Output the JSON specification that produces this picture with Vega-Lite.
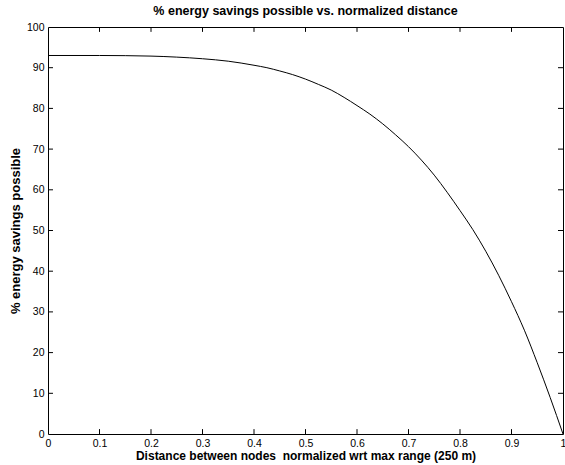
{
  "$schema": "https://vega.github.io/schema/vega-lite/v6.json",
  "width": 515,
  "height": 407,
  "autosize": {"type": "none"},
  "padding": {"left": 48, "top": 27, "right": 2, "bottom": 31},
  "background": "white",
  "config": {
    "font": "Liberation Sans",
    "view": {"stroke": "black", "strokeWidth": 1},
    "axis": {
      "grid": false,
      "domain": false,
      "ticks": false,
      "labelColor": "black",
      "titleColor": "black",
      "labelFont": "Liberation Sans",
      "titleFont": "Liberation Sans",
      "labelFontSize": 10.5,
      "titleFontSize": 12,
      "titleFontWeight": "bold",
      "labelPadding": 4
    }
  },
  "title": {
    "text": "% energy savings possible vs. normalized distance",
    "font": "Liberation Sans",
    "fontSize": 12.5,
    "fontWeight": "bold",
    "color": "black",
    "offset": 5
  },
  "datasets": {
    "curve": [
      {"x": 0, "y": 93.0},
      {"x": 0.1, "y": 93.0},
      {"x": 0.2, "y": 92.85},
      {"x": 0.25, "y": 92.6},
      {"x": 0.3, "y": 92.2},
      {"x": 0.35, "y": 91.6},
      {"x": 0.4, "y": 90.6},
      {"x": 0.425, "y": 90.0},
      {"x": 0.45, "y": 89.2},
      {"x": 0.475, "y": 88.3},
      {"x": 0.5, "y": 87.2},
      {"x": 0.525, "y": 85.9},
      {"x": 0.55, "y": 84.5},
      {"x": 0.575, "y": 82.7},
      {"x": 0.6, "y": 80.7},
      {"x": 0.625, "y": 78.6},
      {"x": 0.65, "y": 76.2},
      {"x": 0.675, "y": 73.5},
      {"x": 0.7, "y": 70.6},
      {"x": 0.725, "y": 67.3},
      {"x": 0.75, "y": 63.6},
      {"x": 0.775, "y": 59.4},
      {"x": 0.8, "y": 54.9},
      {"x": 0.825, "y": 50.2},
      {"x": 0.85, "y": 44.9},
      {"x": 0.875, "y": 39.0},
      {"x": 0.9, "y": 32.5},
      {"x": 0.925, "y": 25.5},
      {"x": 0.95, "y": 17.5},
      {"x": 0.975, "y": 9.0},
      {"x": 1.0, "y": 0.0}
    ],
    "xticks": [
      {"t": 0.1}, {"t": 0.2}, {"t": 0.3}, {"t": 0.4}, {"t": 0.5},
      {"t": 0.6}, {"t": 0.7}, {"t": 0.8}, {"t": 0.9}
    ],
    "yticks": [
      {"t": 10}, {"t": 20}, {"t": 30}, {"t": 40}, {"t": 50},
      {"t": 60}, {"t": 70}, {"t": 80}, {"t": 90}
    ]
  },
  "layer": [
    {
      "data": {"name": "curve"},
      "mark": {"type": "line", "color": "black", "strokeWidth": 1, "interpolate": "monotone"},
      "encoding": {
        "x": {
          "field": "x", "type": "quantitative",
          "scale": {"domain": [0, 1], "nice": false, "zero": false},
          "axis": {"values": [0, 0.1, 0.2, 0.3, 0.4, 0.5, 0.6, 0.7, 0.8, 0.9, 1], "format": "~g", "title": "Distance between nodes\u00a0 normalized wrt max range (250 m)", "titlePadding": 2, "labelPadding": 4, "labelFlush": false}
        },
        "y": {
          "field": "y", "type": "quantitative",
          "scale": {"domain": [0, 100], "nice": false},
          "axis": {"values": [0, 10, 20, 30, 40, 50, 60, 70, 80, 90, 100], "title": "% energy savings possible", "titleFontSize": 13, "titlePadding": 4, "labelFlush": false}
        }
      }
    },
    {
      "data": {"name": "xticks"},
      "mark": {"type": "rule", "color": "black", "strokeWidth": 1},
      "encoding": {
        "x": {"field": "t", "type": "quantitative"},
        "y": {"datum": 0},
        "y2": {"datum": 1.2}
      }
    },
    {
      "data": {"name": "xticks"},
      "mark": {"type": "rule", "color": "black", "strokeWidth": 1},
      "encoding": {
        "x": {"field": "t", "type": "quantitative"},
        "y": {"datum": 100},
        "y2": {"datum": 98.8}
      }
    },
    {
      "data": {"name": "yticks"},
      "mark": {"type": "rule", "color": "black", "strokeWidth": 1},
      "encoding": {
        "y": {"field": "t", "type": "quantitative"},
        "x": {"datum": 0},
        "x2": {"datum": 0.0097}
      }
    },
    {
      "data": {"name": "yticks"},
      "mark": {"type": "rule", "color": "black", "strokeWidth": 1},
      "encoding": {
        "y": {"field": "t", "type": "quantitative"},
        "x": {"datum": 1},
        "x2": {"datum": 0.9903}
      }
    }
  ]
}
